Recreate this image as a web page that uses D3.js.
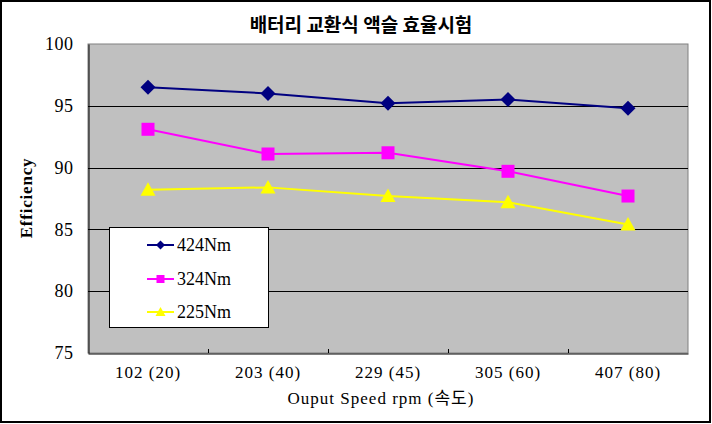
<!DOCTYPE html>
<html><head><meta charset="utf-8">
<script src="https://cdn.jsdelivr.net/npm/d3@7"></script>
<style>html,body{margin:0;padding:0;background:#fff;}svg{display:block;}</style>
</head><body>
<svg id="c" width="712" height="424"></svg>
<script>
const categories = ["102 (20)", "203 (40)", "229 (45)", "305 (60)", "407 (80)"];
const s424 = [96.5, 96.0, 95.2, 95.5, 94.8];
const s324 = [93.1, 91.1, 91.2, 89.7, 87.7];
const s225 = [88.2, 88.4, 87.7, 87.2, 85.4];
const seriesNames = ["424Nm", "324Nm", "225Nm"];
const yTicks = [75, 80, 85, 90, 95, 100];
const title = "배터리 교환식 액슬 효율시험";
const xTitle = "Ouput Speed rpm (속도)";
const yTitle = "Efficiency";

const series = [
  {name: seriesNames[0], values: s424, color: "#000080", shape: "diamond"},
  {name: seriesNames[1], values: s324, color: "#FF00FF", shape: "square"},
  {name: seriesNames[2], values: s225, color: "#FFFF00", shape: "triangle"}
];

const svg = d3.select("#c");
const L = 88, R = 688, T = 44, B = 353;
const serif = "'Liberation Serif','DejaVu Serif',serif";
const kfont = "'Noto Sans CJK KR','Noto Sans',sans-serif";

const x = d3.scaleBand().domain(categories).range([L, R]);
const y = d3.scaleLinear().domain([75, 100]).range([B, T]);

// outer frame
svg.append("rect").attr("x", 1).attr("y", 1).attr("width", 709).attr("height", 421)
  .attr("fill", "#fff").attr("stroke", "#000").attr("stroke-width", 2);

// plot area
svg.append("rect").attr("x", L).attr("y", T).attr("width", R - L).attr("height", B - T)
  .attr("fill", "#C0C0C0").attr("stroke", "#808080").attr("stroke-width", 1);

// gridlines
svg.append("g").selectAll("line").data(yTicks.filter(d => d > 75 && d < 100)).join("line")
  .attr("x1", L).attr("x2", R).attr("y1", d => Math.round(y(d)) + 0.5).attr("y2", d => Math.round(y(d)) + 0.5)
  .attr("stroke", "#000").attr("stroke-width", 1);

// y axis
const ya = svg.append("g").attr("transform", `translate(${L + 0.5},0)`)
  .call(d3.axisLeft(y).tickValues(yTicks).tickSize(0).tickPadding(15));
ya.select(".domain").attr("stroke", "#000");
ya.selectAll("text").attr("font-family", serif).attr("font-size", 18).attr("letter-spacing", 0.5).attr("fill", "#000");

// x axis
const xa = svg.append("g").attr("transform", `translate(0,${B + 0.5})`)
  .call(d3.axisBottom(x).tickSize(0).tickPadding(12));
xa.select(".domain").attr("stroke", "#000");
xa.selectAll("text").attr("font-family", serif).attr("font-size", 17).attr("letter-spacing", 1).attr("fill", "#000");
// inward tick marks at category boundaries
svg.append("g").selectAll("line").data(categories.slice(1)).join("line")
  .attr("x1", d => Math.round(x(d)) + 0.5).attr("x2", d => Math.round(x(d)) + 0.5)
  .attr("y1", B - 4).attr("y2", B).attr("stroke", "#000");

// marker shapes
function marker(shape, r) {
  if (shape === "diamond") return `M0,${-r}L${r},0L0,${r}L${-r},0Z`;
  if (shape === "square") return `M${-r},${-r}H${r}V${r}H${-r}Z`;
  return `M0,${-r}L${r},${r * 0.8}H${-r}Z`;
}
const mr = {diamond: 7.5, square: 6.5, triangle: 7.5};

// lines
const line = d3.line().x((d, i) => x(categories[i]) + x.bandwidth() / 2).y(d => y(d));
series.forEach(s => {
  svg.append("path").datum(s.values).attr("d", line)
    .attr("fill", "none").attr("stroke", s.color).attr("stroke-width", 2);
  svg.append("g").selectAll("path").data(s.values).join("path")
    .attr("transform", (d, i) => `translate(${x(categories[i]) + x.bandwidth() / 2},${y(d)})`)
    .attr("d", marker(s.shape, mr[s.shape]))
    .attr("fill", s.color);
});

// legend
const lg = svg.append("g");
lg.append("rect").attr("x", 109.5).attr("y", 227.5).attr("width", 159).attr("height", 100)
  .attr("fill", "#fff").attr("stroke", "#000").attr("stroke-width", 1);
const ly = [245, 279, 312];
series.forEach((s, i) => {
  lg.append("line").attr("x1", 147).attr("x2", 174).attr("y1", ly[i]).attr("y2", ly[i])
    .attr("stroke", s.color).attr("stroke-width", 2);
  lg.append("path").attr("transform", `translate(160.5,${ly[i]})`)
    .attr("d", marker(s.shape, s.shape === "diamond" ? 4.5 : s.shape === "triangle" ? 5 : 4))
    .attr("fill", s.color);
  lg.append("text").attr("x", 177).attr("y", ly[i]).attr("dy", "0.35em")
    .attr("font-family", serif).attr("font-size", 18).attr("fill", "#000").text(s.name);
});

// titles
svg.append("text").attr("x", 361).attr("y", 25).attr("dy", "0.35em").attr("text-anchor", "middle")
  .attr("font-family", kfont).attr("font-weight", "bold").attr("font-size", 19).attr("fill", "#000").text(title);
svg.append("text").attr("x", 381).attr("y", 398).attr("dy", "0.35em").attr("text-anchor", "middle")
  .attr("font-family", serif + ",'Noto Sans CJK KR'").attr("font-size", 17).attr("letter-spacing", 1).attr("fill", "#000").text(xTitle);
svg.append("text").attr("transform", "translate(26,198) rotate(-90)").attr("dy", "0.35em").attr("text-anchor", "middle")
  .attr("font-family", serif).attr("font-weight", "bold").attr("font-size", 17).attr("letter-spacing", 0.8).attr("fill", "#000").text(yTitle);
</script>
</body></html>
